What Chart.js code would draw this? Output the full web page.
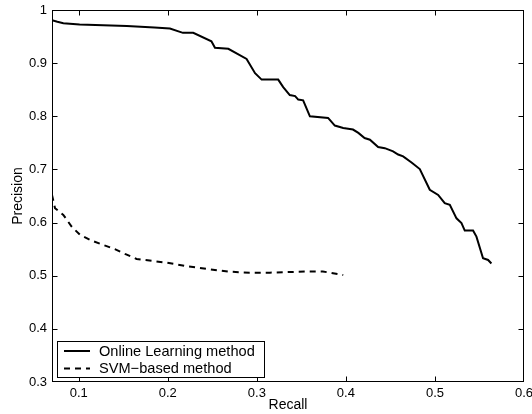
<!DOCTYPE html>
<html>
<head>
<meta charset="utf-8">
<script src="https://cdn.jsdelivr.net/npm/chart.js@4.4.1/dist/chart.umd.min.js"></script>
<style>
html,body{margin:0;padding:0;background:#fff;}
canvas{display:block;}
</style>
</head>
<body>
<canvas id="c" width="532" height="414"></canvas>
<script>
const onlineRecall = [0.070,0.076,0.0827,0.101,0.154,0.185,0.2024,0.217,0.2286,0.249,0.253,0.268,0.2885,0.298,0.3054,0.324,0.3296,0.337,0.343,0.3465,0.352,0.3596,0.380,0.3876,0.397,0.4044,0.408,0.414,0.421,0.427,0.4362,0.4437,0.453,0.4587,0.4643,0.4737,0.483,0.4942,0.5036,0.511,0.5167,0.5242,0.5298,0.5335,0.5428,0.5466,0.554,0.5597,0.5634];
const onlinePrecision = [0.981,0.978,0.975,0.9725,0.970,0.967,0.965,0.957,0.957,0.941,0.929,0.927,0.908,0.881,0.869,0.869,0.855,0.840,0.838,0.8315,0.830,0.800,0.797,0.7825,0.778,0.776,0.775,0.7687,0.759,0.756,0.742,0.740,0.734,0.728,0.7245,0.713,0.7007,0.6617,0.652,0.6366,0.6334,0.608,0.599,0.585,0.585,0.5736,0.5328,0.5296,0.523];
const svmRecall = [0.070,0.0734,0.0827,0.092,0.1014,0.1145,0.1275,0.1406,0.1519,0.165,0.1837,0.1987,0.2211,0.247,0.2698,0.292,0.3147,0.337,0.359,0.3741,0.382,0.397];
const svmPrecision = [0.652,0.627,0.6145,0.5925,0.577,0.566,0.558,0.550,0.541,0.5315,0.5277,0.5245,0.518,0.512,0.5075,0.5057,0.5057,0.507,0.508,0.508,0.5057,0.5013];
const xTicks = [0.1,0.2,0.3,0.4,0.5,0.6];
const yTicks = [0.3,0.4,0.5,0.6,0.7,0.8,0.9,1];
const seriesNames = ["Online Learning method","SVM\u2212based method"];
const xTitle = "Recall";
const yTitle = "Precision";

const FONT = "'Liberation Sans', Arial, Helvetica, sans-serif";
const zip = (xs, ys) => xs.map((x, i) => ({x: x, y: ys[i]}));

const frame = {
  id: 'frame',
  afterDraw(chart) {
    const {ctx, chartArea: a, scales} = chart;
    ctx.save();
    ctx.strokeStyle = '#000';
    ctx.lineWidth = 1;
    const L = Math.round(a.left) + 0.5, R = Math.round(a.right) - 0.5;
    const T = Math.round(a.top) + 0.5, B = Math.round(a.bottom) - 0.5;
    ctx.strokeRect(L, T, R - L, B - T);
    const tl = 5;
    ctx.beginPath();
    xTicks.forEach(v => {
      const px = Math.round(scales.x.getPixelForValue(v)) + 0.5;
      if (px < L + 1 || px > R - 1) return;
      ctx.moveTo(px, B); ctx.lineTo(px, B - tl);
      ctx.moveTo(px, T); ctx.lineTo(px, T + tl);
    });
    yTicks.forEach(v => {
      const py = Math.round(scales.y.getPixelForValue(v)) + 0.5;
      if (py < T + 1 || py > B - 1) return;
      ctx.moveTo(L, py); ctx.lineTo(L + tl, py);
      ctx.moveTo(R, py); ctx.lineTo(R - tl, py);
    });
    ctx.stroke();

    // legend
    const bx = 57, by = 341, bw = 207, bh = 36;
    ctx.fillStyle = '#fff';
    ctx.fillRect(bx, by, bw, bh);
    ctx.strokeRect(bx + 0.5, by + 0.5, bw, bh);
    ctx.font = '14.6px ' + FONT;
    ctx.textBaseline = 'middle';
    ctx.textAlign = 'left';
    ctx.fillStyle = '#000';
    chart.data.datasets.forEach((ds, i) => {
      const yy = 351 + i * 17.5;
      ctx.beginPath();
      ctx.lineWidth = 2;
      ctx.setLineDash(ds.borderDash || []);
      ctx.moveTo(64, yy); ctx.lineTo(90, yy);
      ctx.stroke();
      ctx.setLineDash([]);
      ctx.fillText(ds.label, 99, yy + 0.5);
    });
    ctx.restore();
  }
};

new Chart(document.getElementById('c'), {
  type: 'scatter',
  data: {
    datasets: [
      {label: seriesNames[0], data: zip(onlineRecall, onlinePrecision), showLine: true, borderColor: '#000', borderWidth: 2, pointRadius: 0, fill: false, tension: 0},
      {label: seriesNames[1], data: zip(svmRecall, svmPrecision), showLine: true, borderColor: '#000', borderWidth: 2, borderDash: [6, 5], pointRadius: 0, fill: false, tension: 0}
    ]
  },
  options: {
    responsive: false,
    animation: false,
    devicePixelRatio: 1,
    layout: {padding: {left: 0, top: 10, right: 8, bottom: 0}},
    plugins: {legend: {display: false}, tooltip: {enabled: false}},
    scales: {
      x: {
        type: 'linear', min: 0.07, max: 0.6,
        afterBuildTicks: s => { s.ticks = xTicks.map(v => ({value: v})); },
        afterFit: s => { s.height = 32; s.paddingLeft = 0; s.paddingRight = 0; },
        grid: {display: false, drawTicks: false},
        border: {display: false},
        ticks: {color: '#000', font: {family: FONT, size: 13}, padding: 4, maxRotation: 0, autoSkip: false,
          callback: v => String(+v.toFixed(2))},
        title: {display: true, text: xTitle, color: '#000', font: {family: FONT, size: 14}, padding: {top: 0, bottom: 0}}
      },
      y: {
        type: 'linear', min: 0.3, max: 1,
        afterBuildTicks: s => { s.ticks = yTicks.map(v => ({value: v})); },
        afterFit: s => { s.width = 52; s.paddingTop = 0; s.paddingBottom = 0; },
        grid: {display: false, drawTicks: false},
        border: {display: false},
        ticks: {color: '#000', font: {family: FONT, size: 13}, padding: 5, autoSkip: false,
          callback: v => String(+v.toFixed(2))},
        title: {display: true, text: yTitle, color: '#000', font: {family: FONT, size: 14}, padding: {top: 10, bottom: 0}}
      }
    }
  },
  plugins: [frame]
});
</script>
</body>
</html>
